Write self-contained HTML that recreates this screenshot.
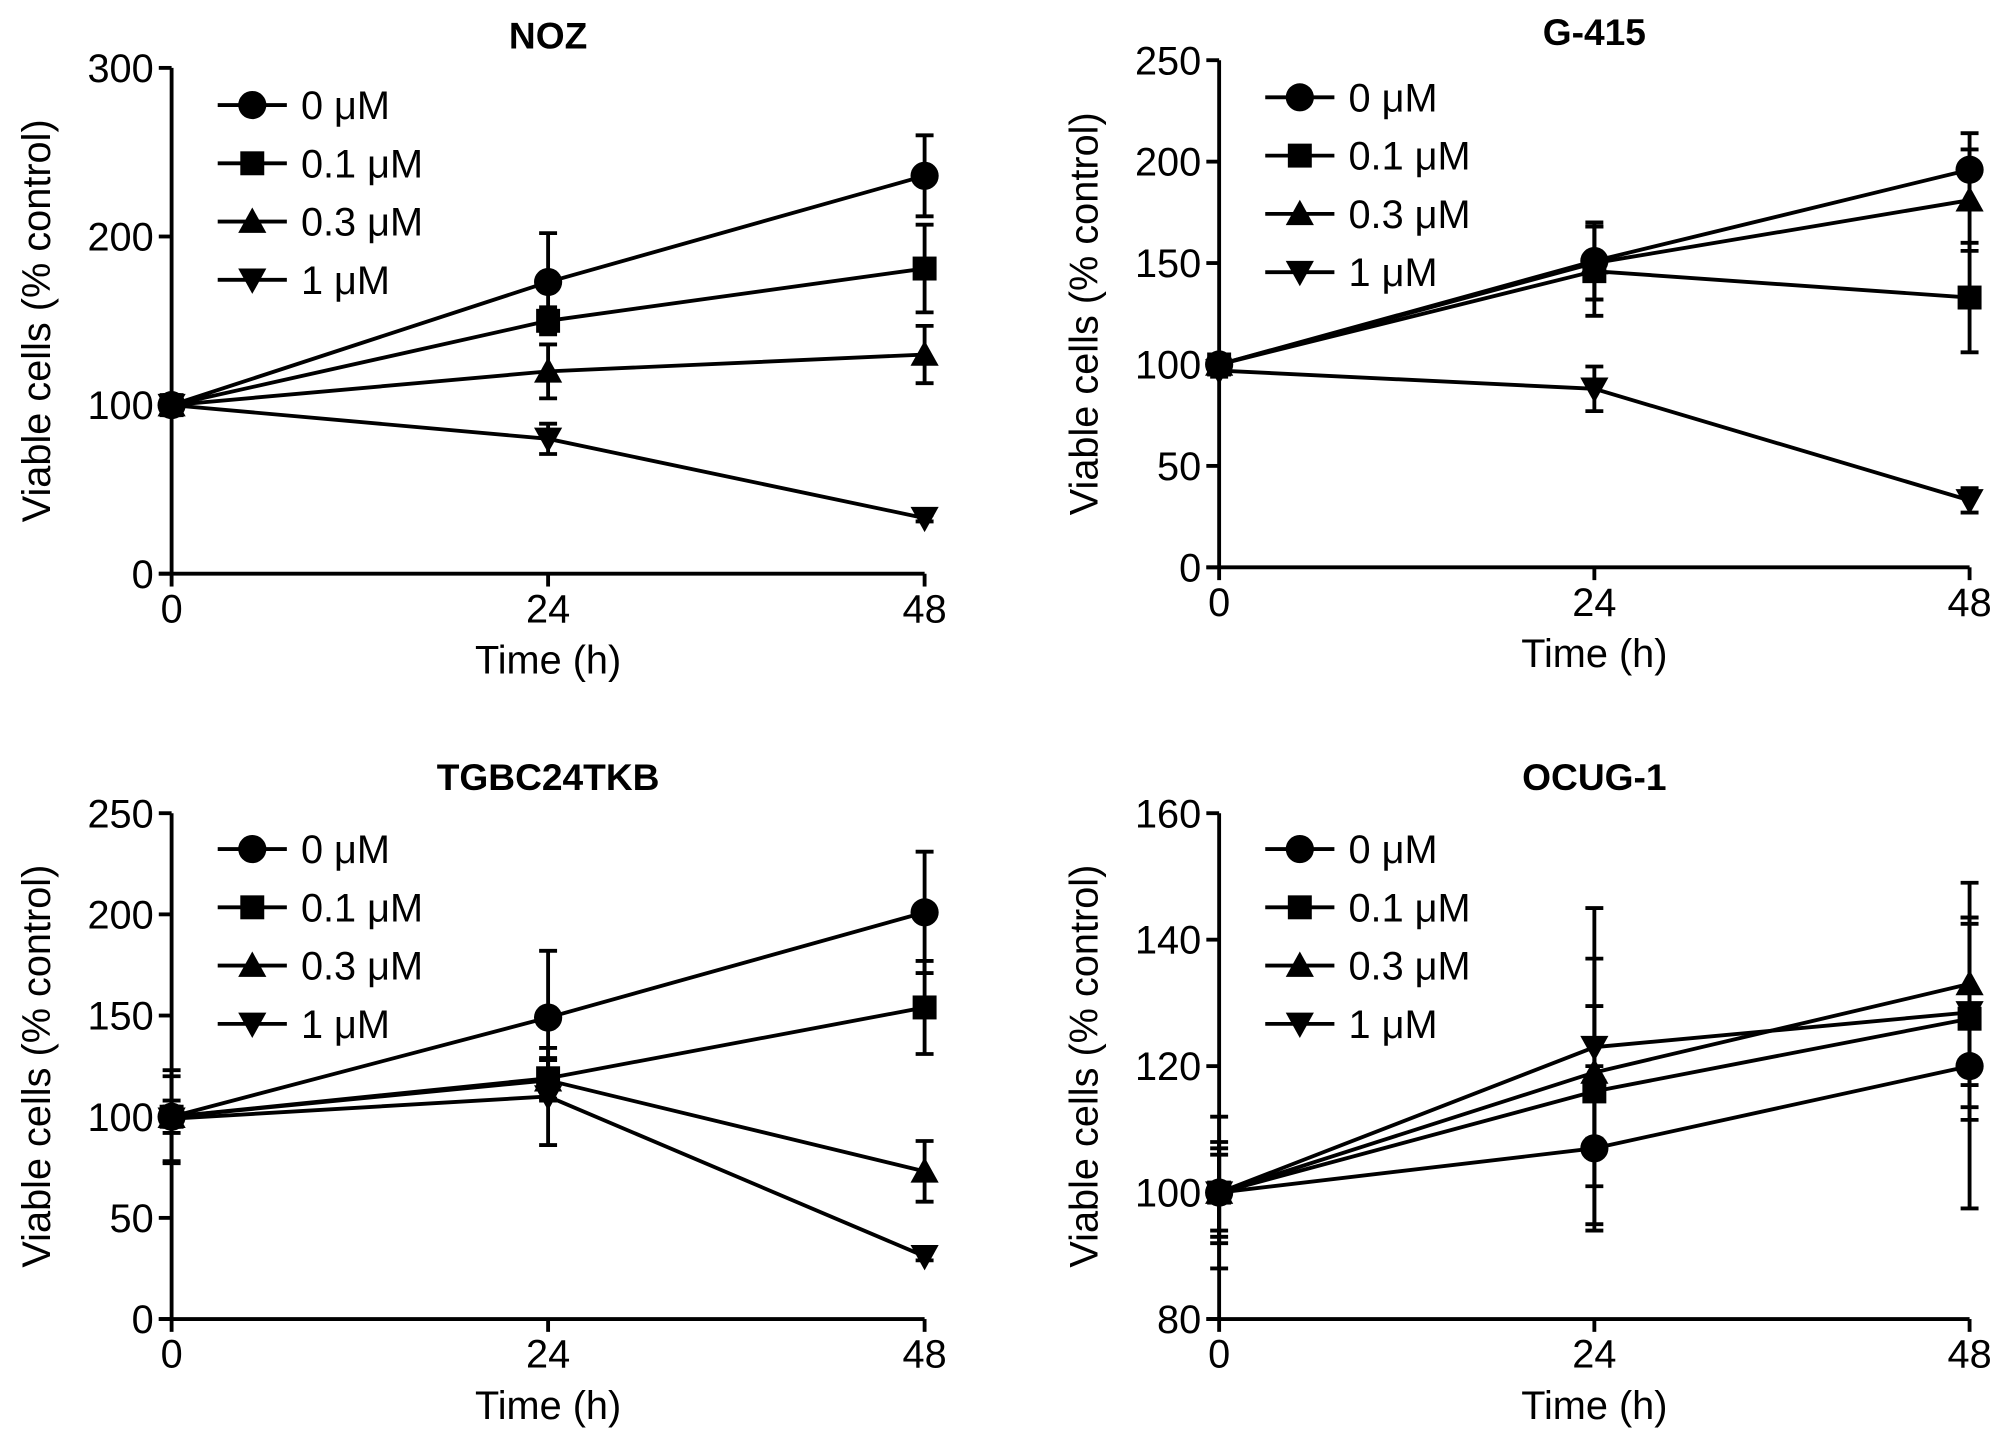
<!DOCTYPE html>
<html><head><meta charset="utf-8"><style>
html,body{margin:0;padding:0;background:#fff}
svg{display:block}
text{font-family:"Liberation Sans",Arial,sans-serif;fill:#000}
</style></head><body>
<svg id="fig" width="2008" height="1442" viewBox="0 0 1568 1126" xmlns="http://www.w3.org/2000/svg"></svg>
<script>
const times = [0, 24, 48];
const seriesLabels = ["0 μM", "0.1 μM", "0.3 μM", "1 μM"];
const markers = ["circle", "square", "up", "down"];
const panelTitles = ["NOZ", "G-415", "TGBC24TKB", "OCUG-1"];
const yTicksNOZ = [0, 100, 200, 300];
const yTicksG = [0, 50, 100, 150, 200, 250];
const yTicksT = [0, 50, 100, 150, 200, 250];
const yTicksO = [80, 100, 120, 140, 160];
const nozMeans = [[100,173,236],[100,150,181],[100,120,130],[100,80,33]];
const nozErr = [[6,29,24],[5,8,26],[4,16,17],[4,9,2]];
const gMeans = [[100,151,196],[100,146,133],[100,150,181],[97,88,33]];
const gErr = [[3,19,18],[3,22,27],[3,18,25],[3,11,6]];
const tMeans = [[100,149,201],[100,119,154],[100,118,73],[99,110,31]];
const tErr = [[23,33,30],[5,10,23],[8,10,15],[21,24,2]];
const oMeans = [[100,107,120],[100,116,127.5],[100,119,133],[100,123,128.5]];
const oErr = [[12,13,22.5],[6,21,16],[8,10.5,16],[7,22,15]];

const NS = "http://www.w3.org/2000/svg";
const svg = document.getElementById("fig");
function mk(tag, attrs, parent){const e=document.createElementNS(NS,tag);for(const k in attrs)e.setAttribute(k,attrs[k]);(parent||svg).appendChild(e);return e;}

const panels = [
 {ox:134, x48:722, y0:448, yTop:53, ymin:0, ymax:300, ticks:yTicksNOZ, means:nozMeans, err:nozErr, title:panelTitles[0], ty:28, legY:82},
 {ox:952, x48:1538, y0:443, yTop:47, ymin:0, ymax:250, ticks:yTicksG, means:gMeans, err:gErr, title:panelTitles[1], ty:25, legY:76},
 {ox:134, x48:722, y0:1030, yTop:635, ymin:0, ymax:250, ticks:yTicksT, means:tMeans, err:tErr, title:panelTitles[2], ty:607, legY:663},
 {ox:952, x48:1538, y0:1030, yTop:635, ymin:80, ymax:160, ticks:yTicksO, means:oMeans, err:oErr, title:panelTitles[3], ty:607, legY:663},
];

function drawMarker(g, type, cx, cy, s){
  let el;
  if(type==="circle") el=mk("circle",{cx:cx,cy:cy,r:s},g);
  else if(type==="square") el=mk("rect",{x:cx-s*0.85,y:cy-s*0.85,width:s*1.7,height:s*1.7},g);
  else if(type==="up") el=mk("polygon",{points:`${cx},${cy-s} ${cx-s},${cy+s*0.8} ${cx+s},${cy+s*0.8}`},g);
  else el=mk("polygon",{points:`${cx},${cy+s} ${cx-s},${cy-s*0.8} ${cx+s},${cy-s*0.8}`},g);
  el.setAttribute("fill","#000");
  return el;
}

panels.forEach((p, pi) => {
  const g = mk("g", {});
  
  
  const xs = t => p.ox + (p.x48 - p.ox) * t / 48;
  const ys = v => p.y0 - (p.y0 - p.yTop) * (v - p.ymin) / (p.ymax - p.ymin);
  const tt = mk("text",{x:(p.ox+p.x48)/2,y:p.ty+10,"text-anchor":"middle","font-size":29,"font-weight":"bold"},g);
  tt.textContent = p.title;
  
  
  const ya = mk("line",{x1:p.ox,y1:p.yTop,x2:p.ox,y2:p.y0,stroke:"#000","stroke-width":3},g);
  
  
  const xa = mk("line",{x1:p.ox-10,y1:p.y0,x2:p.x48,y2:p.y0,stroke:"#000","stroke-width":3},g);
  
  
  p.ticks.forEach(v => {
    const y = ys(v);
    mk("line",{x1:p.ox-10,y1:y,x2:p.ox,y2:y,stroke:"#000","stroke-width":3},g);
    const t = mk("text",{x:p.ox-14,y:y+11,"text-anchor":"end","font-size":31},g);
    t.textContent = v;
    
    
  });
  times.forEach(tv => {
    const x = xs(tv);
    mk("line",{x1:x,y1:p.y0,x2:x,y2:p.y0+10,stroke:"#000","stroke-width":3},g);
    const t = mk("text",{x:x,y:p.y0+38,"text-anchor":"middle","font-size":31},g);
    t.textContent = tv;
    
    
  });
  const xt = mk("text",{x:xs(24),y:p.y0+78,"text-anchor":"middle","font-size":31},g);
  xt.textContent = "Time (h)";
  
  
  const ymid = (p.y0 + p.yTop)/2;
  const yx = p.ox-106;
  const yt = mk("text",{x:yx,y:ymid+11,"text-anchor":"middle","font-size":31,transform:`rotate(-90 ${yx} ${ymid})`},g);
  yt.textContent = "Viable cells (% control)";
  
  
  p.means.forEach((m, si) => {
    const sg = mk("g",{},g);
    
    
    mk("polyline",{points:m.map((v,i)=>`${xs(times[i])},${ys(v)}`).join(" "),fill:"none",stroke:"#000","stroke-width":3},sg);
    m.forEach((v,i) => {
      const x = xs(times[i]), e = p.err[si][i];
      const hi = ys(v+e), lo = ys(v-e);
      mk("line",{x1:x,y1:hi,x2:x,y2:lo,stroke:"#000","stroke-width":3},sg);
      mk("line",{x1:x-7,y1:hi,x2:x+7,y2:hi,stroke:"#000","stroke-width":3},sg);
      mk("line",{x1:x-7,y1:lo,x2:x+7,y2:lo,stroke:"#000","stroke-width":3},sg);
      const mm = drawMarker(sg, markers[si], x, ys(v), 11);
      
      
    });
  });
  const lx = p.ox + 63;
  seriesLabels.forEach((lab, si) => {
    const ly = p.legY + si*45.5;
    const lg = mk("g",{},g);
    
    
    mk("line",{x1:lx-27,y1:ly,x2:lx+27,y2:ly,stroke:"#000","stroke-width":3},lg);
    drawMarker(lg, markers[si], lx, ly, 11);
    const t = mk("text",{x:lx+38,y:ly+11,"font-size":31},lg);
    t.textContent = lab;
  });
});
</script>
</body></html>
